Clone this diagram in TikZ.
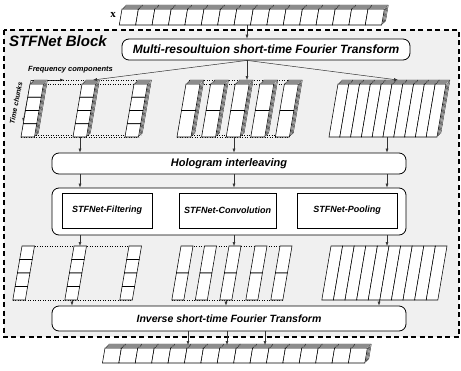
\documentclass[tikz,border=0pt]{standalone}
\usepackage{fontspec}
\setmainfont{Liberation Serif}
\setsansfont{Liberation Sans}
\usetikzlibrary{arrows.meta,calc}
\def\sk{0.17}
% column of n cells: x y w H n  (top-left corner of the top cell)
\newcommand\cellcol[5]{%
  \pgfmathsetmacro\chh{#4/#5}%
  \pgfmathsetmacro\cx{#1}%
  \foreach \ci in {1,...,#5}{%
    \draw[cellst] ({\cx-\sk*(\ci-1)*\chh},{#2+(\ci-1)*\chh}) -- ++(#3,0) -- ++({-\sk*\chh},\chh) -- ++(-#3,0) -- cycle;
  }}
% three shadow layers behind a column: x y w H
\newcommand\shadowcol[4]{%
  \pgfmathsetmacro\sx{#1}%
  \foreach \sj in {3,2,1}{%
    \draw[shad] ({\sx+1.3*\sj},{#2-1.3*\sj}) -- ++(#3,0) -- ++({-\sk*#4},#4) -- ++(-#3,0) -- cycle;
  }}
% horizontal strip with shadows: x y w h n
\newcommand\hstrip[5]{%
  \foreach \sj in {3,2,1}{%
    \foreach \ci in {1,...,#5}{%
      \draw[shad] ({#1+(\ci-1)*#3+1.3*\sj},{#2-1.3*\sj}) -- ++(#3,0) -- ++({-\sk*#4},#4) -- ++(-#3,0) -- cycle;
    }}%
  \foreach \ci in {1,...,#5}{%
    \draw[cellst] ({#1+(\ci-1)*#3},#2) -- ++(#3,0) -- ++({-\sk*#4},#4) -- ++(-#3,0) -- cycle;
  }}
\begin{document}
\begin{tikzpicture}[x=1pt,y=-1pt,
  shad/.style={draw=black,line width=0.3pt,fill=gray!30},
  cellst/.style={draw=black,line width=0.55pt,fill=white},
  arr/.style={-{Latex[length=4pt,width=3pt]},line width=0.5pt,draw=black!80},
  rbox/.style={draw=black,line width=0.8pt,rounded corners=7pt,fill=white,inner sep=0pt},
  ibox/.style={draw=black,line width=0.8pt,fill=white,inner sep=0pt},
  dots/.style={dotted,line width=0.5pt}]
\useasboundingbox (0,0) rectangle (461,370);

% STFNet block region
\draw[line width=1.1pt,dash pattern=on 5pt off 3.5pt,fill=gray!12] (4,30) rectangle (459,337);
\node[anchor=west,inner sep=0pt,font=\sffamily\bfseries\itshape\fontsize{15}{15}\selectfont] (blk) at (9,41) {STFNet Block};

% input strip
\node[inner sep=0pt,font=\bfseries\fontsize{11}{11}\selectfont] (xl) at (113,15) {x};
\hstrip{122}{9}{16.4}{16}{16}
\coordinate (xin) at (247,25);

% boxes
\node[rbox,minimum width=288pt,minimum height=21pt,font=\sffamily\bfseries\itshape\fontsize{12}{12}\selectfont] (mr) at (266,49.5) {Multi-resoultuion short-time Fourier Transform};
\node[rbox,minimum width=354pt,minimum height=21pt,font=\sffamily\bfseries\itshape\fontsize{11}{11}\selectfont] (holo) at (229,163.5) {Hologram interleaving};
\node[rbox,minimum width=354pt,minimum height=47pt] (big) at (229,211.5) {};
\node[ibox,minimum width=90pt,minimum height=35pt,font=\sffamily\bfseries\itshape\fontsize{9}{9}\selectfont] (filt) at (107,210.5) {STFNet-Filtering};
\node[ibox,minimum width=97pt,minimum height=35pt,font=\sffamily\bfseries\itshape\fontsize{9}{9}\selectfont] (conv) at (227.5,210.5) {STFNet-Convolution};
\node[ibox,minimum width=100pt,minimum height=35pt,font=\sffamily\bfseries\itshape\fontsize{9}{9}\selectfont] (pool) at (347,210.5) {STFNet-Pooling};
\node[rbox,minimum width=354pt,minimum height=25pt,font=\sffamily\bfseries\itshape\fontsize{10.5}{10.5}\selectfont] (inv) at (229,318.5) {Inverse short-time Fourier Transform};

% axes labels
\node[anchor=west,inner sep=0pt,font=\sffamily\bfseries\itshape\fontsize{7.5}{7.5}\selectfont] (freq) at (28,70) {Frequency components};
\coordinate (ax0) at (31,80);
\coordinate (axf) at (64,80);
\coordinate (axt) at (23,122);
\draw[arr] (ax0) -- (axf);
\draw[arr] (ax0) -- (axt);
\node[rotate=79,inner sep=0pt,font=\sffamily\bfseries\itshape\fontsize{7}{7}\selectfont] (tc) at (16,103) {Time chunks};

% ---- upper group 1 (3 columns x 4 cells)
\draw[dots] (30,84) -- (147.5,84);
\draw[dots] (33.3,80.7) -- (150.8,80.7);
\draw[dots] (21,137) -- (138.5,137);
\draw[dots] (23,135) -- (140.5,135);
\foreach \x in {30,82,134}{\shadowcol{\x}{84}{13.5}{53}}
\foreach \x in {30,82,134}{\cellcol{\x}{84}{13.5}{53}{4}}
% ---- upper group 2 (5 columns x 2 cells)
\draw[dots] (186,84) -- (298.4,84);
\draw[dots] (189.3,80.7) -- (301.7,80.7);
\draw[dots] (177,137) -- (289.4,137);
\draw[dots] (179,135) -- (291.4,135);
\foreach \x in {186,210.6,235.2,259.8,284.4}{\shadowcol{\x}{84}{14}{53}}
\foreach \x in {186,210.6,235.2,259.8,284.4}{\cellcol{\x}{84}{14}{53}{2}}
% ---- upper group 3 (10 columns)
\foreach \k in {0,...,9}{\shadowcol{338+10.8*\k}{84}{10.8}{53}}
\foreach \k in {0,...,9}{\cellcol{338+10.8*\k}{84}{10.8}{53}{1}}

% ---- lower group 1
\draw[dots] (22,246) -- (141.5,246);
\draw[dots] (12.8,300) -- (132.3,300);
\foreach \x in {22,74,129}{\cellcol{\x}{246}{12.5}{54}{4}}
% ---- lower group 2
\draw[dots] (181,246) -- (292,246);
\draw[dots] (171.8,300) -- (282.8,300);
\foreach \x in {181,204.5,229,255,280}{\cellcol{\x}{246}{12}{54}{2}}
% ---- lower group 3
\foreach \k in {0,...,9}{\cellcol{331+11.6*\k}{246}{11.6}{54}{1}}

% output strip
\hstrip{105}{348}{16.4}{15}{16}

% anchors
\coordinate (g1t) at (93,80);
\coordinate (g2t) at (247,80);
\coordinate (g3t) at (398,80);
\coordinate (g1b) at (80,137);
\coordinate (g2b) at (234,137);
\coordinate (g3b) at (387,137);
\coordinate (h1t) at (80,246);
\coordinate (h2t) at (234,246);
\coordinate (h3t) at (387,246);
\coordinate (h1b) at (72,300);
\coordinate (h2b) at (226,300);
\coordinate (h3b) at (379,300);
\coordinate (o1) at (188,345);
\coordinate (o2) at (227,345);
\coordinate (o3) at (265,345);

% connectors
\draw[arr] (xin) -- (xin |- mr.north);
\coordinate (fan) at (xin |- mr.south);
\draw[arr] (fan) -- (g1t);
\draw[arr] (fan) -- (g2t);
\draw[arr] (fan) -- (g3t);
\foreach \g in {g1b,g2b,g3b}{\draw[arr] (\g) -- (\g |- holo.north);}
\foreach \g in {g1b,g2b,g3b}{\draw[arr] (holo.south -| \g) -- (big.north -| \g);}
\foreach \g in {h1t,h2t,h3t}{\draw[arr] (big.south -| \g) -- (\g);}
\foreach \g in {h1b,h2b,h3b}{\draw[arr] (\g) -- (\g |- inv.north);}
\foreach \g in {o1,o2,o3}{\draw[arr] (inv.south -| \g) -- (\g);}
\end{tikzpicture}
\end{document}
